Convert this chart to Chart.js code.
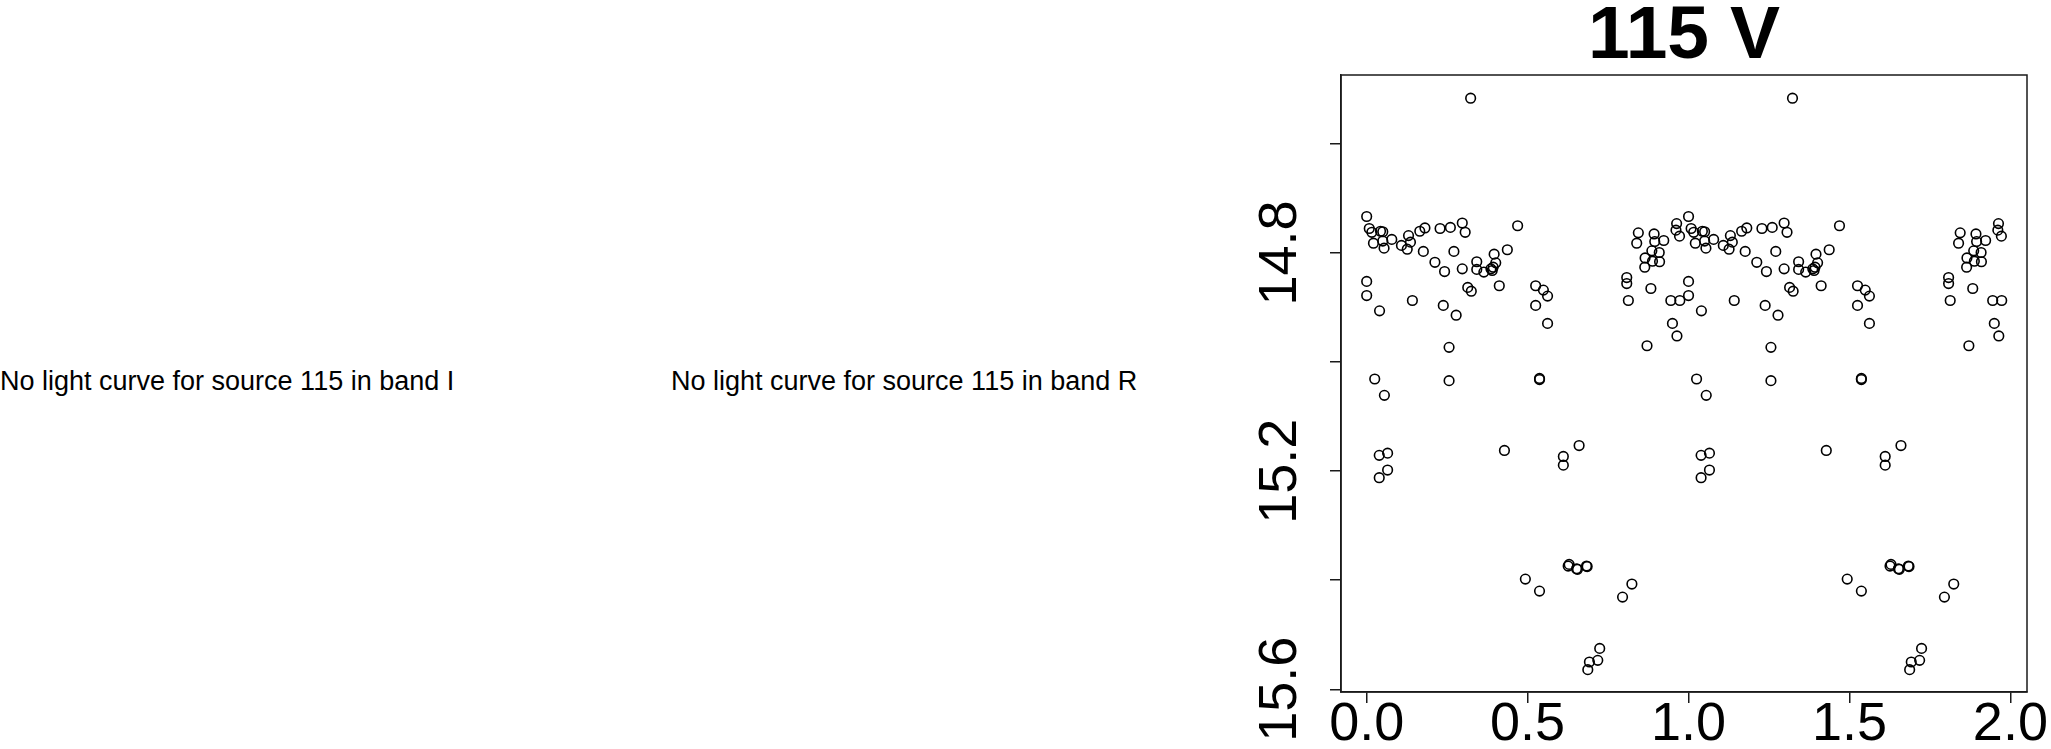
<!DOCTYPE html>
<html>
<head>
<meta charset="utf-8">
<title>115 V</title>
<script src="https://cdn.jsdelivr.net/npm/chart.js@4.4.0/dist/chart.umd.min.js"></script>
<style>
  body { margin: 0; background: #fff; overflow: hidden; }
  #wrap { position: relative; width: 2051px; height: 749px; }
  canvas { position: absolute; left: 0; top: 0; }
  .nolc {
    position: absolute;
    font-family: "Liberation Sans", Arial, sans-serif;
    font-size: 27px;
    color: #000;
    white-space: nowrap;
    line-height: 1;
  }
</style>
</head>
<body>
<div id="wrap">
  <div class="nolc" style="left:0px; top:368px;">No light curve for source 115 in band I</div>
  <div class="nolc" style="left:671px; top:368px;">No light curve for source 115 in band R</div>
  <canvas id="lc" width="2051" height="749"></canvas>
</div>
<script>
// phase (one cycle) and V magnitude
const phase = [
  0.323, 0.000, 0.008, 0.016, 0.043, 0.050, 0.021, 0.050, 0.054, 0.078,
  0.108, 0.130, 0.136, 0.126, 0.165, 0.181, 0.176, 0.228, 0.260, 0.297,
  0.306, 0.271, 0.212, 0.242, 0.297, 0.342, 0.342, 0.364, 0.396, 0.401,
  0.393, 0.390, 0.386, 0.437, 0.469, 0.000, 0.000, 0.040, 0.142, 0.238,
  0.278, 0.314, 0.325, 0.412, 0.525, 0.549, 0.562, 0.525, 0.562, 0.256,
  0.025, 0.256, 0.537, 0.537, 0.808, 0.808, 0.813, 0.844, 0.839, 0.893,
  0.895, 0.923, 0.886, 0.909, 0.865, 0.888, 0.910, 0.864, 0.883, 0.963,
  0.961, 0.972, 0.945, 0.973, 0.950, 0.964, 0.871, 0.055, 0.039, 0.065,
  0.065, 0.039, 0.428, 0.611, 0.611, 0.660, 0.626, 0.629, 0.655, 0.652,
  0.683, 0.685, 0.493, 0.537, 0.824, 0.795, 0.724, 0.692, 0.718, 0.687
];
const vmag = [
  14.516, 14.733, 14.755, 14.762, 14.760, 14.761, 14.782, 14.778, 14.791, 14.775,
  14.786, 14.768, 14.780, 14.793, 14.760, 14.754, 14.797, 14.755, 14.753, 14.745,
  14.762, 14.797, 14.817, 14.834, 14.829, 14.816, 14.830, 14.835, 14.802, 14.818,
  14.826, 14.832, 14.829, 14.794, 14.750, 14.852, 14.878, 14.906, 14.887, 14.896,
  14.914, 14.863, 14.870, 14.860, 14.860, 14.868, 14.879, 14.896, 14.929, 14.973,
  15.031, 15.034, 15.030, 15.032, 14.845, 14.856, 14.887, 14.763, 14.782, 14.765,
  14.779, 14.777, 14.796, 14.799, 14.809, 14.815, 14.816, 14.826, 14.865, 14.746,
  14.758, 14.769, 14.887, 14.887, 14.929, 14.952, 14.970, 15.061, 15.171, 15.167,
  15.198, 15.212, 15.162, 15.173, 15.189, 15.153, 15.374, 15.371, 15.380, 15.379,
  15.374, 15.375, 15.398, 15.420, 15.407, 15.431, 15.525, 15.550, 15.547, 15.564
];
const xTicks = [0, 0.5, 1, 1.5, 2];
const yTicks = [14.6, 14.8, 15.0, 15.2, 15.4, 15.6];
const yLabels = ['', '14.8', '', '15.2', '', '15.6'];

// two cycles, as in the original plot
const pts = [];
for (let k = 0; k < 2; k++) {
  phase.forEach((p, i) => pts.push({ x: p + k, y: vmag[i] }));
}

const FONT = '"Liberation Sans", Arial, sans-serif';
const INK = '#1a1a1a';

const frame = {
  id: 'frame',
  afterDraw(chart) {
    const { ctx, chartArea: a } = chart;
    ctx.save();
    ctx.strokeStyle = INK;
    ctx.lineWidth = 1.5;
    ctx.strokeRect(a.left, a.top, a.right - a.left, a.bottom - a.top);
    ctx.restore();
  }
};

new Chart(document.getElementById('lc'), {
  type: 'scatter',
  data: {
    datasets: [{
      data: pts,
      pointStyle: 'circle',
      pointRadius: 4.8,
      pointHoverRadius: 4.8,
      borderWidth: 1.6,
      borderColor: '#000',
      backgroundColor: 'rgba(0,0,0,0)'
    }]
  },
  options: {
    responsive: false,
    animation: false,
    devicePixelRatio: 1,
    layout: { padding: { left: 1241, right: 24, top: 0, bottom: 0 } },
    plugins: {
      legend: { display: false },
      tooltip: { enabled: false },
      title: {
        display: true,
        text: '115 V',
        fullSize: false,
        color: '#000',
        font: { family: FONT, size: 75, weight: 'bold', lineHeight: 1 },
        padding: { top: 0, bottom: 0 }
      }
    },
    scales: {
      x: {
        type: 'linear',
        min: -0.0798,
        max: 2.0516,
        afterFit(s) { s.height = 57; },
        afterBuildTicks(s) { s.ticks = xTicks.map(v => ({ value: v })); },
        grid: { drawOnChartArea: false, drawTicks: true, tickLength: 11, color: INK, lineWidth: 1.5 },
        border: { display: true, color: INK, width: 1.5 },
        ticks: {
          color: '#000',
          padding: -10,
          maxRotation: 0,
          font: { family: FONT, size: 54 },
          callback: v => v.toFixed(1)
        }
      },
      y: {
        type: 'linear',
        reverse: true,
        min: 14.4735,
        max: 15.605,
        afterFit(s) { s.width = 100; },
        afterBuildTicks(s) { s.ticks = yTicks.map(v => ({ value: v })); },
        grid: { drawOnChartArea: false, drawTicks: true, tickLength: 11, color: INK, lineWidth: 1.5 },
        border: { display: true, color: INK, width: 1.5 },
        ticks: {
          color: '#000',
          minRotation: 90,
          maxRotation: 90,
          crossAlign: 'center',
          padding: -4,
          font: { family: FONT, size: 54 },
          callback: (v, i) => yLabels[i]
        }
      }
    }
  },
  plugins: [frame]
});
</script>
</body>
</html>
